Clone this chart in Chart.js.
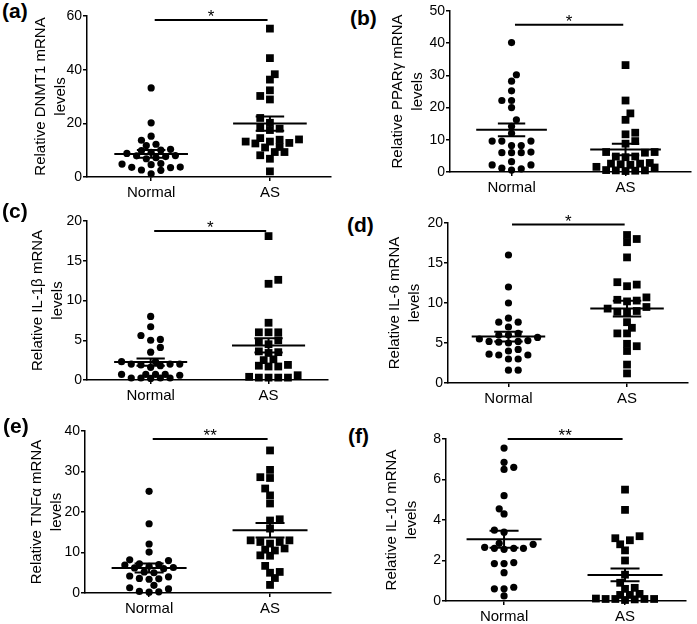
<!DOCTYPE html>
<html>
<head>
<meta charset="utf-8">
<script src="https://cdn.jsdelivr.net/npm/chart.js@4.4.0/dist/chart.umd.min.js"></script>
<style>
  body { margin: 0; background: #fff; }
  #fig { position: relative; width: 697px; height: 624px; background: #fff; overflow: hidden; }
  #fig canvas { position: absolute; }
  .tag { position: absolute; font: bold 21px "Liberation Sans", Arial, sans-serif; line-height: 21px; color: #000; }
</style>
</head>
<body>
<div id="fig"></div>
<script>
// ---- data ----
const groups = ["Normal", "AS"];
const panelTags = ["(a)", "(b)", "(c)", "(d)", "(e)", "(f)"];
const yTitles = ["Relative DNMT1 mRNA", "Relative PPARγ mRNA", "Relative IL-1β mRNA",
                 "Relative IL-6 mRNA", "Relative TNFα mRNA", "Relative IL-10 mRNA"];
const sigMarks = ["*", "*", "*", "*", "**", "**"];
const yMax = [60, 50, 20, 20, 40, 8];
const yStep = [20, 10, 5, 5, 10, 2];

const dnmt1Normal = [33.2, 20.2, 15.2, 13.7, 12.2, 11.7, 10.3, 10.0, 9.8, 9.2, 8.8, 8.0, 7.9, 7.6, 7.2, 6.8, 5.0, 4.8, 4.6, 3.7, 3.6, 3.5, 2.6, 2.5, 1.2];
const dnmt1AS = [55.3, 44.3, 38.3, 36.3, 32.3, 30.2, 28.9, 22.0, 20.2, 18.3, 18.0, 17.5, 14.5, 14.0, 13.9, 13.2, 13.2, 12.7, 12.5, 11.2, 11.0, 9.3, 9.3, 8.1, 6.8, 2.1];
const pparNormal = [40.2, 30.2, 28.2, 25.2, 22.2, 22.2, 20.0, 16.2, 14.2, 12.0, 9.6, 9.6, 9.6, 8.2, 8.2, 6.2, 6.0, 6.0, 6.0, 3.2, 2.2, 2.2, 1.2, 1.0, 0.6];
const pparAS = [33.2, 22.2, 18.2, 16.2, 12.2, 11.7, 9.6, 8.8, 6.2, 6.2, 6.0, 4.8, 4.8, 4.6, 2.8, 2.6, 2.6, 2.4, 2.2, 1.6, 1.4, 0.6, 0.5, 0.5, 0.4, 0.3];
const il1bNormal = [8.0, 6.7, 5.6, 5.1, 5.0, 4.1, 3.5, 2.3, 2.3, 2.0, 2.0, 2.0, 1.9, 1.8, 1.6, 0.7, 0.7, 0.7, 0.7, 0.6, 0.25, 0.25, 0.25, 0.25, 0.2];
const il1bAS = [18.1, 12.6, 12.1, 7.2, 6.0, 6.0, 6.0, 5.0, 4.8, 4.5, 3.6, 3.5, 3.4, 2.6, 2.5, 1.8, 1.7, 1.7, 1.9, 0.6, 0.3, 0.3, 0.3, 0.3, 0.4];
const il6Normal = [16.0, 12.0, 10.0, 8.1, 7.6, 7.6, 7.0, 6.2, 6.0, 6.0, 5.7, 5.5, 5.3, 5.2, 5.2, 5.1, 5.0, 4.2, 4.0, 3.6, 3.5, 3.5, 3.0, 3.0, 1.6, 1.6];
const il6AS = [18.5, 18.0, 17.6, 15.7, 12.6, 12.3, 12.1, 10.7, 10.4, 10.2, 10.3, 9.5, 9.3, 9.0, 8.9, 8.8, 7.6, 6.9, 6.2, 6.2, 4.9, 4.6, 4.0, 2.3, 1.2];
const tnfNormal = [25.1, 17.1, 12.1, 10.1, 8.2, 8.0, 7.2, 7.0, 6.9, 6.6, 6.3, 6.2, 6.0, 5.0, 5.2, 4.2, 4.0, 3.6, 3.5, 3.4, 1.9, 1.3, 1.0, 0.4, 0.3, 0.2];
const tnfAS = [35.2, 30.4, 28.6, 28.4, 25.8, 24.1, 22.1, 18.2, 17.9, 15.9, 13.0, 13.0, 12.6, 12.6, 12.2, 11.0, 10.7, 10.5, 9.3, 9.2, 6.7, 5.2, 5.0, 3.7, 2.0];
const il10Normal = [7.55, 6.85, 6.6, 6.5, 5.2, 4.55, 4.3, 3.5, 3.4, 2.85, 2.8, 2.65, 2.6, 2.6, 2.6, 2.55, 1.9, 1.85, 1.85, 1.4, 0.68, 0.6, 0.6, 0.25];
const il10AS = [5.5, 4.5, 3.2, 3.1, 3.0, 2.8, 2.5, 2.0, 1.3, 0.9, 0.65, 0.6, 0.35, 0.3, 0.3, 0.12, 0.1, 0.1, 0.1, 0.08, 0.05, 0.1];

const normalSets = [dnmt1Normal, pparNormal, il1bNormal, il6Normal, tnfNormal, il10Normal];
const asSets = [dnmt1AS, pparAS, il1bAS, il6AS, tnfAS, il10AS];

// mean and SEM as drawn in the figure (Normal, AS)
const means = [[8.6, 19.9], [13.1, 7.0], [2.25, 4.35], [5.8, 9.3], [6.15, 15.5], [3.05, 1.29]];
const sems = [[1.43, 2.65], [2.0, 1.8], [0.46, 0.9], [0.62, 0.98], [1.11, 1.81], [0.42, 0.31]];

// ---- layout (page pixels) ----
const boxes = [
  { l: 87, r: 333, t: 16, b: 177, titleX: 41, xr: [0.46, 2.51], sig: 0.975, tag: [2, 0] },
  { l: 450, r: 693, t: 11, b: 172, titleX: 398, xr: [0.46, 2.57], sig: 0.915, tag: [350, 7] },
  { l: 87, r: 330, t: 221, b: 380, titleX: 38, xr: [0.46, 2.5], sig: 0.937, tag: [2, 200] },
  { l: 448, r: 690, t: 223, b: 383, titleX: 395, xr: [0.49, 2.51], sig: 0.99, tag: [347, 214] },
  { l: 85, r: 333, t: 431, b: 593, titleX: 37, xr: [0.47, 2.5], sig: 0.95, tag: [3, 415] },
  { l: 446, r: 688, t: 439, b: 601, titleX: 392, xr: [0.52, 2.5], sig: 1.0, tag: [348, 425] }
];

const FONT = '"Liberation Sans", Arial, sans-serif';
const fig = document.getElementById("fig");

// column scatter: nearest free slot (half-column steps) to the centre, kept inside the column width;
// when the column is full, the slot with the least overlap is used
function swarm(values, center, pxPerY, pxPerX) {
  const step = 4.9, minDist = 7, maxK = 6;
  const placed = [];
  const out = [];
  const sorted = [...values].sort((a, b) => a - b);
  sorted.forEach((v, n) => {
    const py = v * pxPerY;
    let best = null, bestD = -1, hit = null;
    for (let s = 0; s <= maxK && hit === null; s++) {
      const ks = s === 0 ? [0] : (n % 2 ? [s, -s] : [-s, s]);
      for (const k of ks) {
        const px = k * step;
        const d = placed.reduce((m, p) => Math.min(m, Math.hypot(p.px - px, p.py - py)), Infinity);
        if (d >= minDist) { hit = px; break; }
        if (d > bestD) { bestD = d; best = px; }
      }
    }
    const px = hit !== null ? hit : best;
    placed.push({ px, py });
    out.push({ x: center + px / pxPerX, y: v });
  });
  return out;
}

function summaryLines(i) {
  const pts = [];
  [0, 1].forEach(g => {
    const c = g + 1, m = means[i][g], s = sems[i][g];
    pts.push({ x: c - 0.31, y: m }, { x: c + 0.31, y: m }, { x: c, y: null });
    pts.push({ x: c - 0.12, y: m + s }, { x: c + 0.12, y: m + s }, { x: c, y: null });
    pts.push({ x: c - 0.12, y: m - s }, { x: c + 0.12, y: m - s }, { x: c, y: null });
    pts.push({ x: c, y: m - s }, { x: c, y: m + s }, { x: c, y: null });
  });
  return pts;
}

const sigPlugin = {
  id: "sig",
  afterDraw(chart, args, opts) {
    const { ctx, scales: { x, y } } = chart;
    const yy = y.getPixelForValue(opts.level);
    const x1 = x.getPixelForValue(1.03), x2 = x.getPixelForValue(1.98);
    ctx.save();
    ctx.strokeStyle = "#000";
    ctx.lineWidth = 2;
    ctx.beginPath(); ctx.moveTo(x1, yy); ctx.lineTo(x2, yy); ctx.stroke();
    ctx.fillStyle = "#000";
    ctx.font = "17px " + FONT;
    ctx.textAlign = "center";
    ctx.textBaseline = "alphabetic";
    ctx.fillText(opts.text, (x1 + x2) / 2, yy + 2);
    ctx.restore();
  }
};

function makePanel(i) {
  const box = boxes[i];
  const PT = 14, PR = 3, XH = 24, TPAD = 2, LH = 20, TFS = 15;
  const left = box.titleX - LH / 2 - TPAD;
  const top = box.t - PT;
  const w = box.r + PR - left, h = box.b + XH - top;

  const canvas = document.createElement("canvas");
  canvas.width = w; canvas.height = h;
  canvas.style.left = left + "px"; canvas.style.top = top + "px";
  canvas.style.width = w + "px"; canvas.style.height = h + "px";
  fig.appendChild(canvas);

  const pxY = (box.b - box.t) / yMax[i];
  const pxX = (box.r - box.l) / (box.xr[1] - box.xr[0]);

  const axisGrid = { display: true, drawOnChartArea: false, drawTicks: true, tickLength: 4, color: "#000", lineWidth: 1.5 };
  const axisBorder = { display: true, color: "#000", width: 1.5 };

  new Chart(canvas, {
    type: "scatter",
    data: {
      datasets: [
        { data: swarm(normalSets[i], 1, pxY, pxX), pointStyle: "circle", pointRadius: 3.6, backgroundColor: "#000", borderWidth: 0, clip: false },
        { data: swarm(asSets[i], 2, pxY, pxX), pointStyle: "rect", pointRadius: 5.5, backgroundColor: "#000", borderWidth: 0, clip: false },
        { data: summaryLines(i), showLine: true, spanGaps: false, borderColor: "#000", borderWidth: 2, pointRadius: 0, clip: false }
      ]
    },
    options: {
      responsive: false,
      animation: false,
      devicePixelRatio: 1,
      layout: { padding: { top: PT, right: PR, left: 0, bottom: 0 } },
      plugins: {
        legend: { display: false },
        tooltip: { enabled: false },
        sig: { level: yMax[i] * box.sig, text: sigMarks[i] }
      },
      scales: {
        x: {
          type: "linear",
          bounds: "data",
          min: box.xr[0],
          max: box.xr[1],
          afterBuildTicks: s => { s.ticks = [{ value: 1 }, { value: 2 }]; },
          afterFit: s => { s.height = XH; },
          ticks: { autoSkip: false, maxRotation: 0, padding: 3, color: "#000", font: { family: FONT, size: 15 }, callback: v => groups[v - 1] },
          grid: axisGrid,
          border: axisBorder
        },
        y: {
          min: 0,
          max: yMax[i],
          afterFit: s => { s.width = box.l - left; },
          ticks: { stepSize: yStep[i], padding: 1, color: "#000", font: { family: FONT, size: 14 } },
          grid: axisGrid,
          border: axisBorder,
          title: {
            display: true,
            text: [yTitles[i], "levels"],
            color: "#000",
            font: { family: FONT, size: TFS, lineHeight: LH / TFS },
            padding: { top: TPAD, bottom: 0 }
          }
        }
      }
    },
    plugins: [sigPlugin]
  });

  const tag = document.createElement("div");
  tag.className = "tag";
  tag.textContent = panelTags[i];
  tag.style.left = box.tag[0] + "px";
  tag.style.top = box.tag[1] + "px";
  fig.appendChild(tag);
}

for (let i = 0; i < boxes.length; i++) makePanel(i);
</script>
</body>
</html>
